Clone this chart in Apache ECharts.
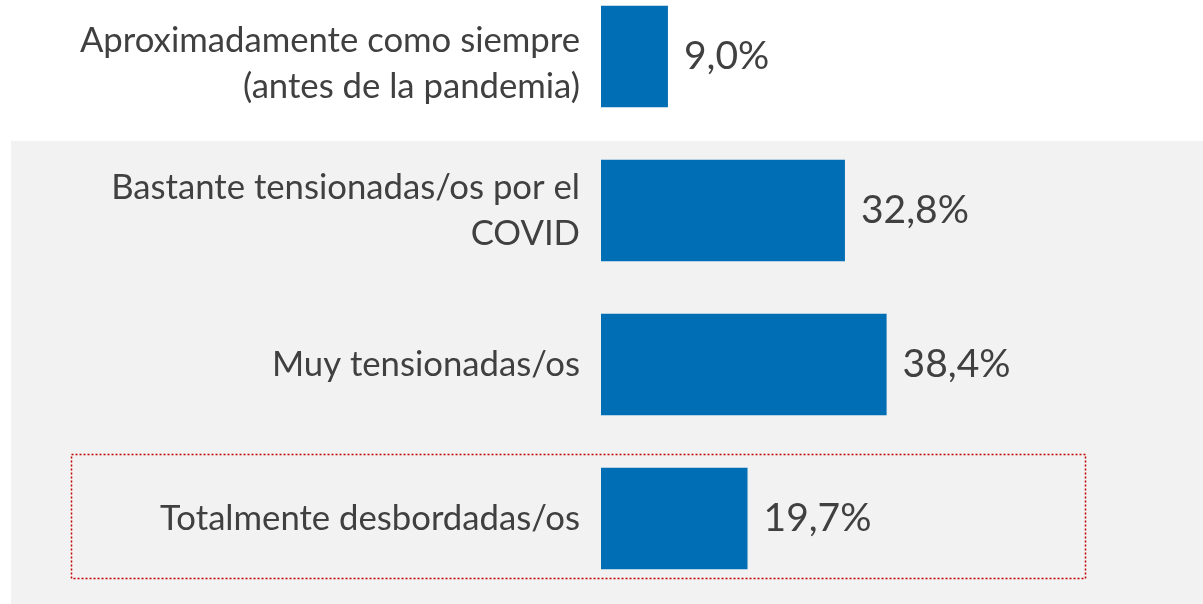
<!DOCTYPE html>
<html><head><meta charset="utf-8">
<script src="https://cdn.jsdelivr.net/npm/echarts@6/dist/echarts.min.js"></script>
<style>html,body{margin:0;padding:0;background:#fff}#c{width:1203px;height:604px}</style>
</head><body><div id="c"></div>
<script>
const categories = [
  "Aproximadamente como siempre\n(antes de la pandemia)",
  "Bastante tensionadas/os por el\nCOVID",
  "Muy tensionadas/os",
  "Totalmente desbordadas/os"
];
const values = [9.0, 32.8, 38.4, 19.7];

const chart = echarts.init(document.getElementById('c'));
chart.setOption({
  animation: false,
  backgroundColor: '#ffffff',
  graphic: [
    { type: 'rect', z: -10, shape: { x: 11, y: 141, width: 1192, height: 463 }, style: { fill: '#f2f2f2' } },
    { type: 'rect', z: -5, shape: { x: 71.5, y: 454.5, width: 1014, height: 124 },
      style: { fill: 'none', stroke: '#c00000', lineWidth: 1.5, lineDash: [2, 2] } }
  ],
  grid: { left: 601, right: 7, top: -20.5, bottom: 8.5, containLabel: false, outerBoundsMode: 'none' },
  xAxis: { type: 'value', min: 0, max: 80, show: false },
  yAxis: {
    type: 'category', inverse: true, data: categories,
    axisLine: { show: false }, axisTick: { show: false },
    axisLabel: {
      margin: 21, fontFamily: 'Lato', fontSize: 34.7, color: '#404040', lineHeight: 46, align: 'right',
      formatter: (v, i) => i === 0
        ? '{sp| }\n' + v.split('\n').map(s => '{t|' + s + '}').join('\n')
        : v,
      rich: {
        sp: { fontSize: 1, lineHeight: 14 },
        t: { fontFamily: 'Lato', fontSize: 34.7, color: '#404040', lineHeight: 46 }
      }
    }
  },
  series: [{
    type: 'bar', data: values, barCategoryGap: '34%',
    itemStyle: { color: '#006eb5' },
    label: { show: true, position: 'right', distance: 16, fontFamily: 'Lato', fontSize: 39, color: '#404040',
      formatter: p => p.value.toFixed(1).replace('.', ',') + '%' }
  }]
});
</script></body></html>
